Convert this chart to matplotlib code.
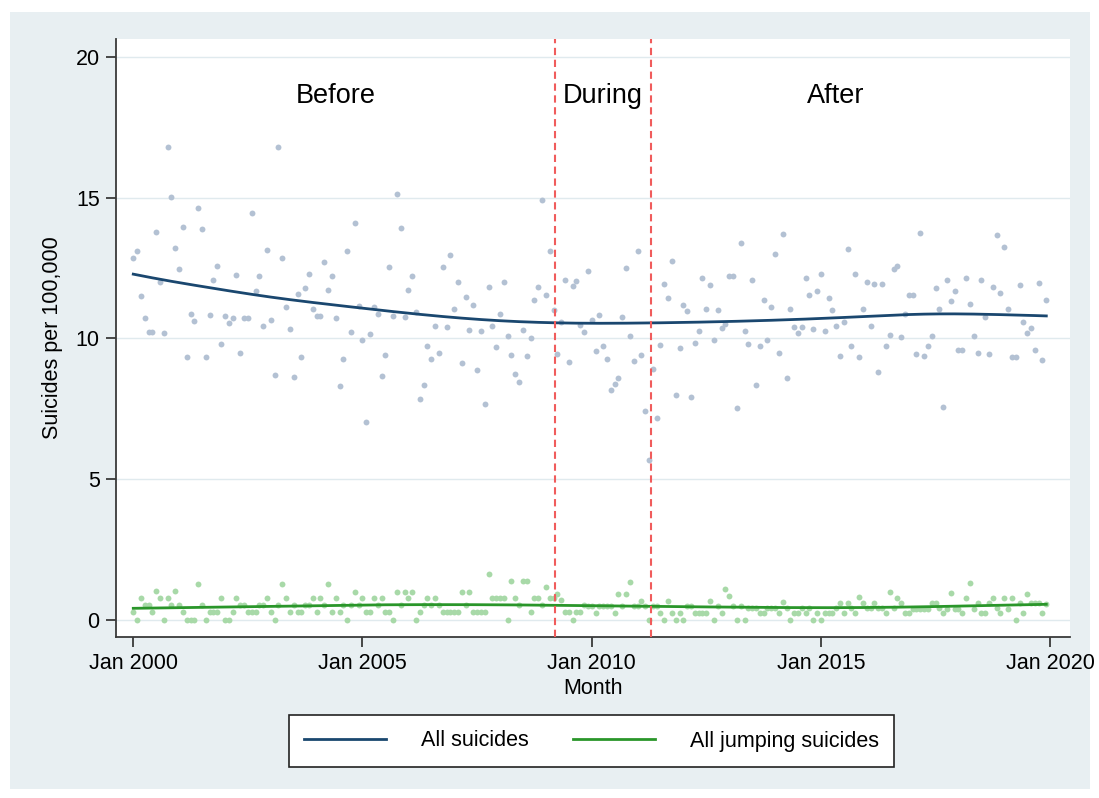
import numpy as np
import matplotlib
matplotlib.use("Agg")
import matplotlib.pyplot as plt
from matplotlib.patches import Rectangle
from matplotlib.lines import Line2D

plt.rcParams['font.family'] = ['Liberation Sans', 'DejaVu Sans']

# ---------------- data (monthly, Jan 2000 = month 0) ----------------
start_year = 2000
all_suicides = [
    12.84, 13.09, 11.52, 10.74, 10.23, 10.23, 13.79, 12.00, 10.19, 16.80, 15.01, 13.20,
    12.45, 13.96, 9.35, 10.87, 10.62, 14.62, 13.87, 9.33, 10.83, 12.07, 12.58, 9.79,
    10.79, 10.54, 10.74, 12.25, 9.50, 10.73, 10.73, 14.47, 11.69, 12.20, 10.45, 13.14,
    10.66, 8.69, 16.80, 12.84, 11.11, 10.35, 8.64, 11.58, 9.35, 11.80, 12.29, 11.03,
    10.79, 10.79, 12.71, 11.73, 12.22, 10.73, 8.31, 9.28, 13.12, 10.22, 14.09, 11.16,
    9.94, 7.05, 10.14, 11.12, 10.87, 8.68, 9.40, 12.52, 10.80, 15.11, 13.91, 10.76,
    11.73, 12.22, 10.95, 7.86, 8.34, 9.74, 9.27, 10.45, 9.47, 12.52, 10.40, 12.95,
    11.06, 12.00, 9.12, 11.48, 10.31, 11.19, 8.87, 10.27, 7.67, 11.83, 10.44, 9.71,
    10.86, 12.01, 10.10, 9.42, 8.73, 8.46, 10.30, 9.37, 10.01, 11.36, 11.83, 14.93,
    11.54, 13.12, 11.00, 9.44, 10.58, 12.08, 9.17, 11.86, 12.03, 10.46, 10.24, 12.41,
    10.64, 9.54, 10.82, 9.72, 9.28, 8.16, 8.37, 8.59, 10.76, 12.50, 10.10, 9.20,
    13.12, 9.41, 7.41, 5.67, 8.92, 7.19, 9.76, 11.94, 11.45, 12.74, 8.00, 9.67,
    11.18, 10.96, 7.92, 9.83, 10.27, 12.13, 11.05, 11.90, 9.95, 11.00, 10.38, 10.52,
    12.22, 12.22, 7.54, 13.38, 10.26, 9.79, 12.08, 8.33, 9.73, 11.38, 9.94, 11.12,
    12.98, 9.48, 13.71, 8.61, 11.05, 10.40, 10.19, 10.40, 12.16, 11.55, 10.33, 11.70,
    12.30, 10.28, 11.42, 11.02, 10.43, 9.37, 10.58, 13.17, 9.73, 12.30, 9.33, 11.04,
    12.02, 10.45, 11.94, 8.82, 11.94, 9.73, 10.13, 12.45, 12.57, 10.06, 10.85, 11.55,
    11.55, 9.43, 13.75, 9.36, 9.74, 10.08, 11.78, 11.04, 7.58, 12.09, 11.34, 11.67,
    9.60, 9.60, 12.14, 11.21, 10.08, 9.49, 12.08, 10.77, 9.43, 11.84, 13.68, 11.60,
    13.25, 11.04, 9.33, 9.33, 11.88, 10.57, 10.21, 10.37, 9.60, 11.95, 9.24, 11.37,
]
jumping_suicides = [
    0.28, 0.00, 0.79, 0.54, 0.54, 0.28, 1.04, 0.79, 0.00, 0.79, 0.54, 1.04,
    0.54, 0.28, 0.00, 0.00, 0.00, 1.29, 0.54, 0.00, 0.28, 0.28, 0.28, 0.79,
    0.00, 0.00, 0.28, 0.79, 0.54, 0.54, 0.28, 0.28, 0.28, 0.54, 0.54, 0.79,
    0.28, 0.00, 0.54, 1.28, 0.79, 0.28, 0.54, 0.28, 0.28, 0.54, 0.54, 0.79,
    0.28, 0.79, 0.54, 1.28, 0.28, 0.79, 0.28, 0.54, 0.00, 0.54, 1.00, 0.54,
    0.79, 0.28, 0.28, 0.79, 0.54, 0.79, 0.28, 0.28, 0.00, 1.00, 0.54, 1.00,
    0.79, 1.00, 0.00, 0.28, 0.54, 0.79, 0.54, 0.79, 0.54, 0.28, 0.28, 0.28,
    0.28, 0.28, 1.00, 0.54, 1.00, 0.28, 0.28, 0.28, 0.28, 1.62, 0.79, 0.79,
    0.79, 0.79, 0.00, 1.38, 0.79, 0.54, 1.38, 1.38, 0.28, 0.79, 0.79, 0.54,
    1.16, 0.79, 0.79, 0.93, 0.70, 0.28, 0.28, 0.00, 0.28, 0.28, 0.54, 0.50,
    0.50, 0.26, 0.50, 0.50, 0.50, 0.50, 0.26, 0.92, 0.50, 0.92, 1.35, 0.50,
    0.50, 0.68, 0.50, 0.00, 0.50, 0.50, 0.26, 0.00, 0.68, 0.26, 0.00, 0.26,
    0.00, 0.50, 0.50, 0.26, 0.26, 0.26, 0.26, 0.66, 0.00, 0.50, 0.26, 1.09,
    0.87, 0.50, 0.00, 0.50, 0.00, 0.44, 0.44, 0.44, 0.26, 0.26, 0.44, 0.44,
    0.44, 0.26, 0.64, 0.44, 0.00, 0.26, 0.26, 0.44, 0.26, 0.44, 0.00, 0.26,
    0.00, 0.26, 0.26, 0.26, 0.44, 0.62, 0.26, 0.62, 0.44, 0.26, 0.83, 0.62,
    0.44, 0.44, 0.62, 0.44, 0.44, 0.26, 0.99, 0.44, 0.80, 0.62, 0.26, 0.26,
    0.38, 0.38, 0.38, 0.38, 0.38, 0.62, 0.62, 0.44, 0.26, 0.38, 0.97, 0.38,
    0.38, 0.26, 0.78, 1.32, 0.38, 0.59, 0.26, 0.26, 0.59, 0.78, 0.44, 0.26,
    0.78, 0.38, 0.78, 0.00, 0.59, 0.26, 0.94, 0.59, 0.59, 0.59, 0.26, 0.57,
]
period_breaks = [110.4, 135.4]          # months since Jan 2000
period_labels = ["Before", "During", "After"]
period_label_x = [53, 123, 184]
period_label_y = 18.6
x_tick_years = [2000, 2005, 2010, 2015, 2020]
y_ticks = [0, 5, 10, 15, 20]
legend_labels = ["All suicides", "All jumping suicides"]

months = np.arange(len(all_suicides))


def stata_lowess(x, y, bw=0.8):
    """Running-line smoother as in Stata's lowess (tricube weights)."""
    x = np.asarray(x, float)
    y = np.asarray(y, float)
    n = len(x)
    k = int(np.floor((n * bw - 0.5) / 2))
    out = np.empty(n)
    for i in range(n):
        lo, hi = max(0, i - k), min(n - 1, i + k)
        xs, ys = x[lo:hi + 1], y[lo:hi + 1]
        delta = 1.0001 * max(x[hi] - x[i], x[i] - x[lo])
        w = (1 - (np.abs(xs - x[i]) / delta) ** 3) ** 3
        sw = w.sum()
        xm = (w * xs).sum() / sw
        ym = (w * ys).sum() / sw
        sxx = (w * (xs - xm) ** 2).sum()
        b = (w * (xs - xm) * (ys - ym)).sum() / sxx if sxx > 0 else 0.0
        out[i] = ym + b * (x[i] - xm)
    return out


smooth_all = stata_lowess(months, all_suicides)
smooth_jump = stata_lowess(months, jumping_suicides)

# ---------------- figure ----------------
W, H = 1099, 798
fig = plt.figure(figsize=(W / 100, H / 100), dpi=100, facecolor="white")
bg = Rectangle((10 / W, 1 - 789 / H), 1080 / W, 777 / H,
               transform=fig.transFigure, facecolor="#e8eff2",
               edgecolor="none", zorder=-10)
fig.add_artist(bg)

ax = fig.add_axes([115.7 / W, 1 - 636.7 / H, (1070 - 115.7) / W, (636.7 - 39.3) / H])
ax.set_zorder(1)
ax.set_facecolor("white")

navy = "#1a476f"
green = "#2a962a"

ax.scatter(months, all_suicides, s=18, color="#b3c1d3", linewidths=0, zorder=3)
ax.scatter(months, jumping_suicides, s=18, color="#a8d9a8", linewidths=0, zorder=3)
ax.plot(months, smooth_all, color=navy, lw=2.0, zorder=4)
ax.plot(months, smooth_jump, color=green, lw=2.0, zorder=4)

for xb in period_breaks:
    ax.axvline(xb, color="#f05c5c", lw=1.5, dashes=(3.5, 2.2), zorder=5)

for lab, lx in zip(period_labels, period_label_x):
    ax.text(lx, period_label_y, lab, ha="center", va="center", fontsize=19.5,
            color="black", zorder=6)

ax.set_xlim(-4.6, 245.2)
ax.set_ylim(-0.59, 20.62)

ax.set_yticks(y_ticks)
ax.set_yticklabels([str(v) for v in y_ticks])
ax.set_xticks([(yr - start_year) * 12 for yr in x_tick_years])
ax.set_xticklabels([f"Jan {yr}" for yr in x_tick_years])

ax.grid(axis="y", color="#e0eaee", lw=1.0, zorder=1)
ax.set_axisbelow(True)

for side in ("top", "right"):
    ax.spines[side].set_visible(False)
for side in ("left", "bottom"):
    ax.spines[side].set_color("#3a3a3a")
    ax.spines[side].set_linewidth(1.3)

ax.tick_params(axis="both", direction="out", length=7, width=1.3, color="#3a3a3a",
               labelsize=15.5, labelcolor="black")
ax.tick_params(axis="y", pad=4.5)
ax.tick_params(axis="x", pad=4.5)

ax.set_ylabel("Suicides per 100,000", fontsize=15.5)
ax.set_xlabel("Month", fontsize=15.5)
ax.yaxis.set_label_coords(-0.066, 0.5)
ax.yaxis.label.set_va("center")
ax.xaxis.set_label_coords(0.5, -0.087)
ax.xaxis.label.set_va("center")

handles = [Line2D([], [], color=navy, lw=2.0), Line2D([], [], color=green, lw=2.0)]
leg = fig.legend(handles, legend_labels, loc="center",
                 bbox_to_anchor=(591.5 / W, 1 - 741 / H), ncol=2, frameon=True,
                 fancybox=False, edgecolor="#222222", facecolor="white",
                 framealpha=1.0, fontsize=15.5, handlelength=3.8,
                 handletextpad=1.6, columnspacing=2.1, borderpad=0.7)
leg.get_frame().set_linewidth(1.2)

fig.savefig("out.png", dpi=100, facecolor="white")
